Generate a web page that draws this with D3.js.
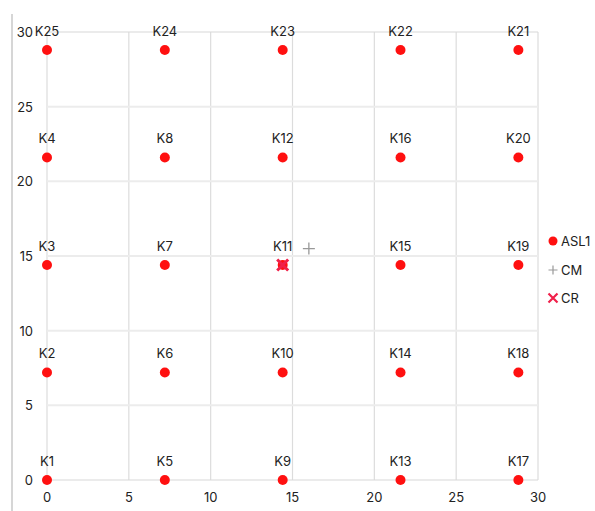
<!DOCTYPE html>
<html><head><meta charset="utf-8">
<script src="https://cdn.jsdelivr.net/npm/d3@7/dist/d3.min.js"></script>
<style>body{margin:0;background:#fff}svg{display:block}text{font-family:Inter,"Noto Sans",sans-serif}</style>
</head><body>
<svg id="c" width="595" height="511"></svg>
<script>
const labels = ["K1","K2","K3","K4","K25","K5","K6","K7","K8","K24","K9","K10","K11","K12","K23","K13","K14","K15","K16","K22","K17","K18","K19","K20","K21"];
const xs = [0,0,0,0,0, 7.2,7.2,7.2,7.2,7.2, 14.4,14.4,14.4,14.4,14.4, 21.6,21.6,21.6,21.6,21.6, 28.8,28.8,28.8,28.8,28.8];
const ys = [0,7.2,14.4,21.6,28.8, 0,7.2,14.4,21.6,28.8, 0,7.2,14.4,21.6,28.8, 0,7.2,14.4,21.6,28.8, 0,7.2,14.4,21.6,28.8];
const cm = [16.0, 15.5];
const cr = [14.4, 14.4];
const ticks = [0,5,10,15,20,25,30];
const legendItems = ["ASL1","CM","CR"];

const svg = d3.select("#c");
const x = d3.scaleLinear().domain([0,30]).range([47,538]);
const y = d3.scaleLinear().domain([0,30]).range([480,32]);
const red = "#ff1010";

// outer left line
svg.append("line").attr("x1",12).attr("x2",12).attr("y1",14).attr("y2",511).attr("stroke","#c8c8c8").attr("stroke-width",1.5);

const g = svg.append("g");
g.selectAll("line.vx").data(ticks).join("line")
 .attr("x1",d=>x(d)).attr("x2",d=>x(d)).attr("y1",y(30)).attr("y2",y(0))
 .attr("stroke","#dcdcdc").attr("stroke-width",1.2);
g.selectAll("line.hy").data(ticks).join("line")
 .attr("y1",d=>y(d)).attr("y2",d=>y(d)).attr("x1",x(0)).attr("x2",x(30))
 .attr("stroke",d=>(d===0||d===30)?"#d8d8d8":"#ececec").attr("stroke-width",d=>(d===0||d===30)?1.2:2);

// tick labels
svg.selectAll("text.xt").data(ticks).join("text")
 .attr("x",d=>x(d)).attr("y",502).attr("text-anchor","middle")
 .attr("font-size",13).attr("fill","#222").text(d=>d);
svg.selectAll("text.yt").data(ticks).join("text")
 .attr("x",33).attr("y",d=>y(d)+5).attr("text-anchor","end")
 .attr("font-size",13).attr("fill","#222").text(d=>d);

// points
const pts = labels.map((l,i)=>({l,x:xs[i],y:ys[i]}));
svg.selectAll("circle.p").data(pts).join("circle")
 .attr("cx",d=>x(d.x)).attr("cy",d=>y(d.y)).attr("r",5).attr("fill",red);
svg.selectAll("text.pl").data(pts).join("text")
 .attr("x",d=>x(d.x)).attr("y",d=>y(d.y)-14).attr("text-anchor","middle")
 .attr("font-size",13).attr("fill","#222").text(d=>d.l);

// CM plus
function plus(cx,cy,s,col,w){
  svg.append("path").attr("d",`M${cx-s},${cy}H${cx+s}M${cx},${cy-s}V${cy+s}`).attr("stroke",col).attr("stroke-width",w).attr("fill","none");
}
function cross(cx,cy,s,col,w){
  svg.append("path").attr("d",`M${cx-s},${cy-s}L${cx+s},${cy+s}M${cx-s},${cy+s}L${cx+s},${cy-s}`).attr("stroke",col).attr("stroke-width",w).attr("fill","none");
}
plus(x(cm[0]),y(cm[1]),6,"#999",1.3);
cross(x(cr[0]),y(cr[1]),5.5,"#f0204a",3);

// legend
const ly = [241,270,298];
svg.append("circle").attr("cx",553).attr("cy",ly[0]).attr("r",4.5).attr("fill",red);
plus(553,ly[1],4.5,"#999",1.2);
cross(553,ly[2],4.5,"#f0204a",2.2);
svg.selectAll("text.lg").data(legendItems).join("text")
 .attr("x",561).attr("y",(d,i)=>ly[i]+5).attr("font-size",13).attr("fill","#222").text(d=>d);
</script>
</body></html>
